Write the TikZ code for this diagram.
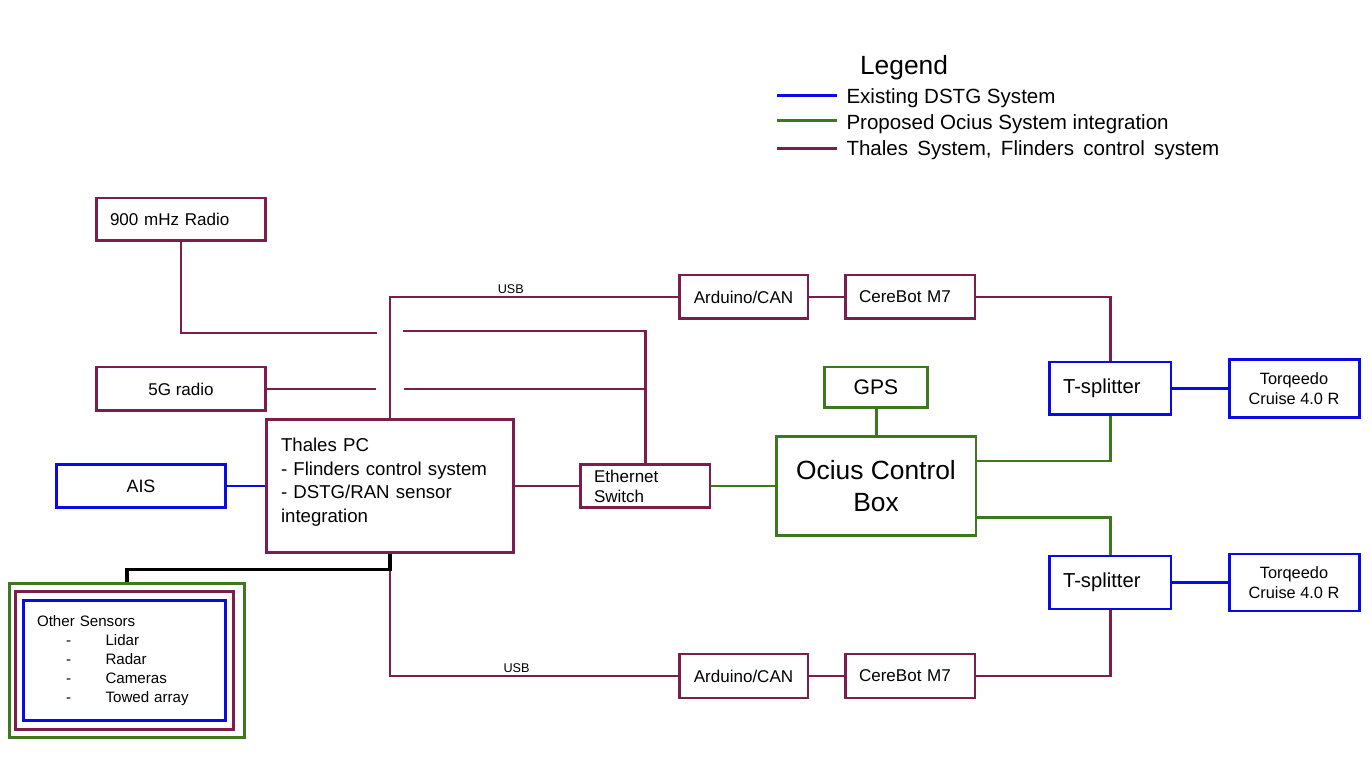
\documentclass[tikz,border=0pt]{standalone}
\usepackage{fontspec}
\setmainfont{Liberation Sans}
\usepackage{xcolor}
\usepackage{tikz}
\usetikzlibrary{shapes,arrows,positioning,calc}

\definecolor{thalescol}{RGB}{123,30,78}
\definecolor{dstgcol}{RGB}{10,10,230}
\definecolor{ociuscol}{RGB}{60,120,30}

\newcommand{\fs}[2]{\fontsize{#1}{#2}\selectfont}
\newcommand{\sensoritem}[1]{\makebox[39pt][l]{\hspace*{16.5pt}-}#1}
\newcommand{\wsp}{\hspace{0.45em}}

\begin{document}
\begin{tikzpicture}[x=0.02cm, y=-0.02cm, line width=1.7pt,
    box/.style={draw, rectangle, inner sep=0pt, minimum height=0.88cm, minimum width=2.6cm, font=\fs{9.7pt}{11.4pt}},
    tbox/.style={box, draw=thalescol},
    dbox/.style={box, draw=dstgcol},
    obox/.style={box, draw=ociuscol},
    tline/.style={draw=thalescol},
    dline/.style={draw=dstgcol},
    oline/.style={draw=ociuscol},
    usb/.style={above, inner sep=1pt, font=\fs{7.2pt}{8pt}}]

    \useasboundingbox (0,0) rectangle (1372,759);

    % Legend
    \node [anchor=base, font=\fs{15pt}{18pt}] (legend) at (904,75) {Legend};
    \node [anchor=base west, inner sep=0pt, font=\fs{11.7pt}{14pt}] (legdstg) at (845,104) {Existing DSTG System};
    \node [anchor=base west, inner sep=0pt, font=\fs{11.7pt}{14pt}] (legocius) at (845,130) {Proposed Ocius System integration};
    \node [anchor=base west, inner sep=0pt, font=\fs{11.7pt}{14pt}] (legthales) at (845,156) {Thales\wsp System,\wsp Flinders\wsp control\wsp system};
    \draw [dline] (777,96) -- (837,96);
    \draw [oline] (777,121) -- (837,121);
    \draw [tline] (777,149) -- (837,149);

    % Radios and sensors
    \node [tbox, minimum width=3.4cm, minimum height=0.86cm, text width=2.84cm, align=left] (radio) at (181,219.5) {900 mHz Radio};
    \node [tbox, minimum width=3.4cm] (fiveg) at (181,389) {5G radio};
    \node [dbox, minimum width=3.4cm, minimum height=0.86cm, font=\fs{10.2pt}{12pt}] (ais) at (141,486) {AIS};
    \node [tbox, minimum width=4.96cm, minimum height=2.68cm, text width=4.36cm, align=left, font=\fs{10.6pt}{13.4pt}] (thales) at (390,486) {Thales PC\\- Flinders control system\\- DSTG/RAN sensor\\integration\rule[-6.7pt]{0pt}{0pt}};
    \node [tbox, minimum height=0.86cm, text width=2.04cm, align=left] (switch) at (645,486) {Ethernet\\Switch};

    % Ocius side
    \node [obox, minimum width=4cm, minimum height=1.98cm, align=center, font=\fs{15pt}{18.2pt}] (ociusbox) at (876,486) {Ocius Control\\Box};
    \node [obox, minimum width=2.06cm, minimum height=0.82cm, font=\fs{12pt}{14pt}] (gps) at (876,387.5) {GPS};
    \node [tbox, minimum width=2.58cm] (arduinoT) at (743.5,297) {Arduino/CAN};
    \node [tbox, text width=2.04cm, align=left] (cerebotT) at (910,297) {CereBot M7};
    \node [tbox, minimum width=2.58cm] (arduinoB) at (743.5,676) {Arduino/CAN};
    \node [tbox, text width=2.04cm, align=left] (cerebotB) at (910,676) {CereBot M7};
    \node [dbox, minimum width=2.44cm, minimum height=1.06cm, text width=1.88cm, align=left, font=\fs{11.5pt}{14pt}] (splitT) at (1110,388.5) {T-splitter};
    \node [dbox, minimum width=2.44cm, minimum height=1.06cm, text width=1.88cm, align=left, font=\fs{11.5pt}{14pt}] (splitB) at (1110,582.5) {T-splitter};
    \node [dbox, minimum height=1.16cm, align=center, font=\fs{9.3pt}{11.4pt}] (motorT) at (1294,388.5) {Torqeedo\\Cruise 4.0 R};
    \node [dbox, minimum height=1.14cm, align=center, font=\fs{9.3pt}{11.4pt}] (motorB) at (1294,582.5) {Torqeedo\\Cruise 4.0 R};

    % Other sensors
    \node [obox, minimum width=4.72cm, minimum height=3.1cm] (sensors) at (127,660.5) {};
    \node [tbox, minimum width=4.38cm, minimum height=2.78cm] (sensorsT) at (124.5,660.5) {};
    \node [dbox, minimum width=4.06cm, minimum height=2.42cm, text width=3.5cm, align=left, font=\fs{8.6pt}{10.8pt}] (sensorsD) at (124.5,660.5) {Other Sensors\\\sensoritem{Lidar}\\\sensoritem{Radar}\\\sensoritem{Cameras}\\\sensoritem{Towed array}};

    % Radio links
    \coordinate (gapA) at (377,333);
    \coordinate (gapB) at (403,331);
    \coordinate (gapC) at (376,389);
    \coordinate (gapD) at (404,389);
    \draw [tline] (radio.south) |- (gapA);
    \draw [tline] (fiveg.east) -- (gapC);
    \draw [tline] (gapB) -| (switch.north);
    \draw [tline] (gapD) -- (switch.north |- gapD);

    % Thales links
    \draw [tline] (thales.north) |- node[usb, pos=0.71] {USB} (arduinoT.west);
    \draw [tline] (thales.south) |- node[usb, pos=0.72] {USB} (arduinoB.west);
    \draw [tline] (arduinoT.east) -- (cerebotT.west);
    \draw [tline] (arduinoB.east) -- (cerebotB.west);
    \draw [tline] (cerebotT.east) -| (splitT.north);
    \draw [tline] (cerebotB.east) -| (splitB.south);
    \draw [tline] (thales.east) -- (switch.west);
    \draw [dline] (ais.east) -- (thales.west);
    \draw [line width=1.9pt] (thales.south) -- ++(0,15) -| (sensors.north);

    % Ocius links
    \draw [oline] (gps.south) -- (ociusbox.north);
    \draw [oline] (switch.east) -- (ociusbox.west);
    \draw [oline] ([yshift=0.5cm]ociusbox.east) -| (splitT.south);
    \draw [oline] ([yshift=-0.64cm]ociusbox.east) -| (splitB.north);
    \draw [dline] (splitT.east) -- (motorT.west);
    \draw [dline] (splitB.east) -- (motorB.west);

\end{tikzpicture}
\end{document}
